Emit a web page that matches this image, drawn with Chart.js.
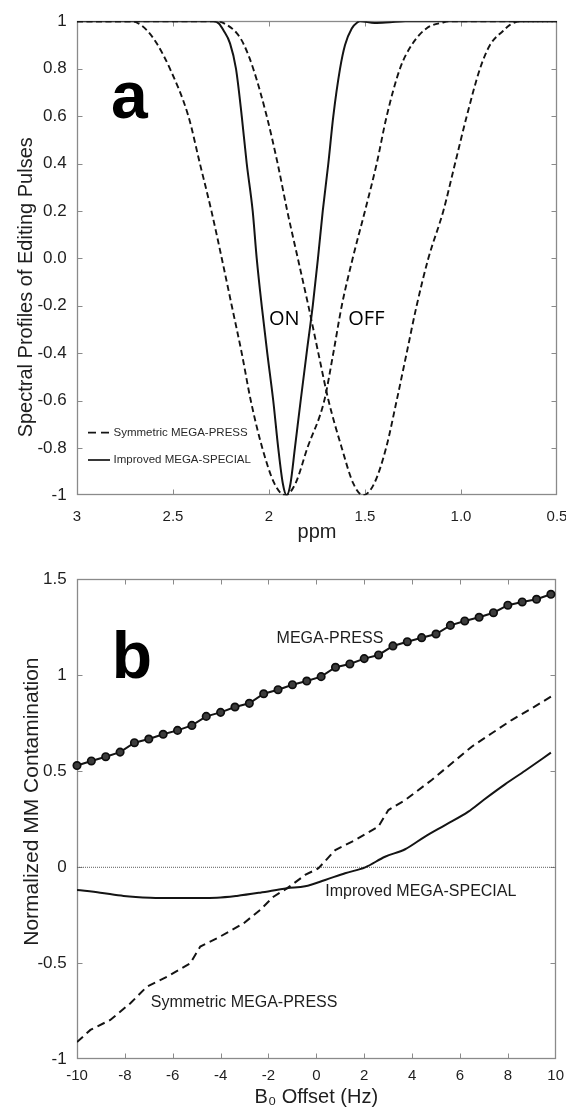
<!DOCTYPE html>
<html lang="en">
<head>
<meta charset="utf-8">
<title>Editing pulse profiles and MM contamination</title>
<script src="https://cdn.jsdelivr.net/npm/chart.js@4.4.1/dist/chart.umd.min.js"></script>
<style>
  html, body { margin: 0; padding: 0; background: #fff; }
  .panel { position: absolute; left: 0; width: 566px; }
  #panelA { top: 0; height: 545px; }
  #panelB { top: 545px; height: 564px; }
</style>
</head>
<body>
<div class="panel" id="panelA"><canvas id="profileChart"></canvas></div>
<div class="panel" id="panelB"><canvas id="mmChart"></canvas></div>
<script>
// ---------- Panel a: spectral profiles of the editing pulses ----------
// Symmetric MEGA-PRESS, ON pulse (dashed)
const symOnPpm = [3.0, 2.72, 2.69, 2.637, 2.585, 2.516, 2.42, 2.36, 2.30, 2.246, 2.194, 2.142, 2.095, 2.035, 1.972,
                  1.915, 1.862, 1.80, 1.712, 1.665, 1.621, 1.564, 1.50, 1.439, 1.387, 1.318, 1.257, 1.18, 1.094, 1.06, 0.5];
const symOnVal = [1, 1, 0.995, 0.963, 0.907, 0.8, 0.6, 0.4, 0.2, 0, -0.2, -0.4, -0.6, -0.8, -0.95,
                  -1, -0.95, -0.8, -0.6, -0.4, -0.2, 0, 0.2, 0.4, 0.6, 0.8, 0.9, 0.97, 0.995, 1, 1];
// Symmetric MEGA-PRESS, OFF pulse (dashed)
const symOffPpm = [3.0, 2.27, 2.22, 2.168, 2.134, 2.082, 2.012, 1.955, 1.905, 1.85, 1.795, 1.743, 1.69, 1.621, 1.561,
                   1.509, 1.452, 1.39, 1.335, 1.283, 1.231, 1.17, 1.092, 1.031, 0.97, 0.901, 0.849, 0.78, 0.745, 0.693, 0.5];
const symOffVal = [1, 1, 0.985, 0.95, 0.907, 0.8, 0.6, 0.4, 0.2, 0, -0.2, -0.4, -0.6, -0.8, -0.95,
                   -1, -0.95, -0.8, -0.6, -0.4, -0.2, 0, 0.2, 0.4, 0.6, 0.8, 0.9, 0.96, 0.985, 1, 1];
// Improved MEGA-SPECIAL, ON pulse (solid)
const mspOnPpm = [3.0, 2.29, 2.26, 2.238, 2.203, 2.172, 2.142, 2.116, 2.085, 2.064, 2.038, 2.009, 1.978, 1.952, 1.928,
                  1.908, 1.888, 1.865, 1.835, 1.804, 1.772, 1.745, 1.72, 1.691, 1.665, 1.63, 1.604, 1.569, 1.54, 1.526,
                  1.45, 1.37, 1.29, 0.5];
const mspOnVal = [1, 1, 0.99, 0.963, 0.907, 0.8, 0.6, 0.4, 0.2, 0, -0.2, -0.4, -0.6, -0.8, -0.95,
                  -1, -0.95, -0.8, -0.6, -0.4, -0.2, 0, 0.2, 0.4, 0.6, 0.8, 0.9, 0.97, 0.995, 1,
                  0.993, 0.996, 1, 1];

const ppmTicks = [3, 2.5, 2, 1.5, 1.0, 0.5];
const ppmTickLabels = ['3', '2.5', '2', '1.5', '1.0', '0.5'];
const profileTicks = [1, 0.8, 0.6, 0.4, 0.2, 0, -0.2, -0.4, -0.6, -0.8, -1];
const profileTickLabels = ['1', '0.8', '0.6', '0.4', '0.2', '0.0', '-0.2', '-0.4', '-0.6', '-0.8', '-1'];

// ---------- Panel b: normalized MM contamination vs B0 offset ----------
const pressHz = [-10, -9.4, -8.8, -8.2, -7.6, -7, -6.4, -5.8, -5.2, -4.6, -4, -3.4, -2.8, -2.2, -1.6, -1, -0.4,
                 0.2, 0.8, 1.4, 2, 2.6, 3.2, 3.8, 4.4, 5, 5.6, 6.2, 6.8, 7.4, 8, 8.6, 9.2, 9.8];
const pressVal = [0.53, 0.554, 0.576, 0.600, 0.649, 0.668, 0.693, 0.713, 0.739, 0.786, 0.807, 0.835, 0.854, 0.904,
                  0.925, 0.951, 0.970, 0.993, 1.042, 1.059, 1.087, 1.106, 1.153, 1.175, 1.196, 1.215, 1.260, 1.283,
                  1.302, 1.326, 1.365, 1.382, 1.396, 1.422];
const symHz = [-10, -9.44, -8.61, -7.77, -7.08, -6.24, -5.27, -4.85, -4.15, -3.04, -2.35, -1.79, -1.23, -0.47, 0.09,
               0.79, 1.62, 2.59, 3.01, 3.71, 4.82, 5.66, 6.49, 7.33, 8.16, 9.0, 9.8];
const symVal = [-0.91, -0.847, -0.795, -0.708, -0.622, -0.570, -0.500, -0.413, -0.370, -0.292, -0.222, -0.153, -0.110,
                -0.040, -0.005, 0.090, 0.142, 0.212, 0.298, 0.350, 0.455, 0.542, 0.628, 0.698, 0.767, 0.828, 0.889];
const impHz = [-10, -9.03, -8.05, -6.94, -5.82, -4.15, -3.32, -2.35, -1.23, -0.47, 0.37, 1.2, 2.04, 2.87, 3.71, 4.54,
               5.38, 6.35, 7.0, 7.88, 8.72, 9.8];
const impVal = [-0.118, -0.132, -0.149, -0.158, -0.160, -0.158, -0.149, -0.132, -0.109, -0.099, -0.066, -0.031, 0.0,
                0.055, 0.094, 0.160, 0.220, 0.290, 0.352, 0.432, 0.503, 0.597];
const zeroHz = [-10, 10];
const zeroVal = [0, 0];

const hzTicks = [-10, -8, -6, -4, -2, 0, 2, 4, 6, 8, 10];
const mmTicks = [1.5, 1, 0.5, 0, -0.5, -1];
const mmTickLabels = ['1.5', '1', '0.5', '0', '-0.5', '-1'];

// ---------- shared styling helpers ----------
const FAMILY = "'Liberation Sans', Arial, Helvetica, sans-serif";
const INK = '#141414';
const TEXT = '#1e1e1e';
const FRAME = '#8a8a8a';

const toPoints = (xs, ys) => xs.map((x, i) => ({ x: x, y: ys[i] }));
const setTicks = values => scale => { scale.ticks = values.map(v => ({ value: v })); };
const fixedBox = size => scale => {
  if (scale.isHorizontal()) { scale.height = size; } else { scale.width = size; }
  scale.paddingLeft = 0; scale.paddingRight = 0; scale.paddingTop = 0; scale.paddingBottom = 0;
};

// Box frame with short inward tick marks on all four sides
const boxFrame = {
  id: 'boxFrame',
  beforeDatasetsDraw(chart) {
    const { ctx, chartArea: a, scales: { x, y } } = chart;
    const L = Math.round(a.left) + 0.5, R = Math.round(a.right) - 0.5;
    const T = Math.round(a.top) + 0.5, B = Math.round(a.bottom) - 0.5;
    const len = 5;
    ctx.save();
    ctx.strokeStyle = FRAME;
    ctx.lineWidth = 1.3;
    ctx.strokeRect(L, T, R - L, B - T);
    ctx.lineWidth = 1;
    ctx.beginPath();
    x.ticks.forEach(t => {
      const px = Math.round(x.getPixelForValue(t.value)) + 0.5;
      if (px - L < 2 || R - px < 2) return;
      ctx.moveTo(px, B); ctx.lineTo(px, B - len);
      ctx.moveTo(px, T); ctx.lineTo(px, T + len);
    });
    y.ticks.forEach(t => {
      const py = Math.round(y.getPixelForValue(t.value)) + 0.5;
      if (py - T < 2 || B - py < 2) return;
      ctx.moveTo(L, py); ctx.lineTo(L + len, py);
      ctx.moveTo(R, py); ctx.lineTo(R - len, py);
    });
    ctx.stroke();
    ctx.restore();
  }
};

function drawVerticalTitle(ctx, text, cx, cy, size) {
  ctx.save();
  ctx.translate(cx, cy);
  ctx.rotate(-Math.PI / 2);
  ctx.font = size + 'px ' + FAMILY;
  ctx.fillStyle = TEXT;
  ctx.textAlign = 'center';
  ctx.textBaseline = 'middle';
  ctx.fillText(text, 0, 0);
  ctx.restore();
}

// Panel a labels: panel letter, ON/OFF tags, inset legend, y title
const profileLabels = {
  id: 'profileLabels',
  afterDraw(chart) {
    const { ctx, chartArea: a, scales: { x, y } } = chart;
    ctx.save();
    ctx.fillStyle = '#000';
    ctx.font = 'bold 66px ' + FAMILY;
    ctx.textAlign = 'left';
    ctx.textBaseline = 'alphabetic';
    ctx.fillText('a', a.left + 34, a.top + 97);

    ctx.fillStyle = '#000';
    ctx.font = "20px 'Open Sans', 'Noto Sans', sans-serif";
    ctx.fillText('ON', x.getPixelForValue(2.0), y.getPixelForValue(-0.281));
    ctx.fillText('OFF', x.getPixelForValue(1.587), y.getPixelForValue(-0.281));

    const ly1 = a.top + 411.4, ly2 = a.top + 438.7;
    ctx.strokeStyle = INK;
    ctx.lineWidth = 1.7;
    ctx.setLineDash([8, 5]);
    ctx.beginPath(); ctx.moveTo(a.left + 11, ly1); ctx.lineTo(a.left + 32, ly1); ctx.stroke();
    ctx.setLineDash([]);
    ctx.beginPath(); ctx.moveTo(a.left + 11, ly2); ctx.lineTo(a.left + 33, ly2); ctx.stroke();
    ctx.fillStyle = '#2a2a2a';
    ctx.font = '11.5px ' + FAMILY;
    ctx.textBaseline = 'middle';
    ctx.fillText('Symmetric MEGA-PRESS', a.left + 36.5, ly1);
    ctx.fillText('Improved MEGA-SPECIAL', a.left + 36.5, ly2);
    ctx.restore();

    drawVerticalTitle(ctx, 'Spectral Profiles of Editing Pulses', 26, (a.top + a.bottom) / 2 + 29, 20);
  }
};

// Panel b labels: panel letter, series names, y title
const mmLabels = {
  id: 'mmLabels',
  afterDraw(chart) {
    const { ctx, chartArea: a, scales: { x, y } } = chart;
    ctx.save();
    ctx.fillStyle = '#000';
    ctx.font = 'bold 66px ' + FAMILY;
    ctx.textAlign = 'left';
    ctx.textBaseline = 'alphabetic';
    ctx.fillText('b', a.left + 34.7, a.top + 99);

    ctx.fillStyle = TEXT;
    ctx.font = '16px ' + FAMILY;
    ctx.textBaseline = 'middle';
    ctx.fillText('MEGA-PRESS', x.getPixelForValue(-1.66), y.getPixelForValue(1.193));
    ctx.fillText('Improved MEGA-SPECIAL', x.getPixelForValue(0.37), y.getPixelForValue(-0.129));
    ctx.fillText('Symmetric MEGA-PRESS', x.getPixelForValue(-6.92), y.getPixelForValue(-0.707));
    ctx.restore();

    drawVerticalTitle(ctx, 'Normalized MM Contamination', 32, (a.top + a.bottom) / 2 - 17.7, 21);
  }
};

Chart.defaults.font.family = FAMILY;

new Chart(document.getElementById('profileChart'), {
  type: 'line',
  data: {
    datasets: [
      { label: 'Improved MEGA-SPECIAL ON', data: toPoints(mspOnPpm, mspOnVal), borderColor: INK, borderWidth: 2,
        cubicInterpolationMode: 'monotone', pointRadius: 0, fill: false },
      { label: 'Symmetric MEGA-PRESS ON', data: toPoints(symOnPpm, symOnVal), borderColor: INK, borderWidth: 1.9,
        borderDash: [6, 3.5], cubicInterpolationMode: 'monotone', pointRadius: 0, fill: false },
      { label: 'Symmetric MEGA-PRESS OFF', data: toPoints(symOffPpm, symOffVal), borderColor: INK, borderWidth: 1.9,
        borderDash: [6, 3.5], cubicInterpolationMode: 'monotone', pointRadius: 0, fill: false }
    ]
  },
  options: {
    responsive: true,
    maintainAspectRatio: false,
    animation: false,
    layout: { padding: { top: 21.3, right: 9, bottom: 0, left: 0 } },
    plugins: { legend: { display: false }, tooltip: { enabled: false } },
    scales: {
      x: {
        type: 'linear', min: 0.5, max: 3, reverse: true,
        afterBuildTicks: setTicks(ppmTicks), afterFit: fixedBox(49.7),
        grid: { display: false, drawTicks: false }, border: { display: false },
        ticks: { autoSkip: false, maxRotation: 0, padding: 12.4, color: TEXT, font: { size: 15 },
                 callback: v => ppmTickLabels[ppmTicks.indexOf(v)] },
        title: { display: true, text: 'ppm', color: TEXT, font: { size: 20 }, padding: { top: 0, bottom: 1 } }
      },
      y: {
        type: 'linear', min: -1, max: 1,
        afterBuildTicks: setTicks(profileTicks), afterFit: fixedBox(77),
        grid: { display: false, drawTicks: false }, border: { display: false },
        ticks: { autoSkip: false, padding: 10.3, color: TEXT, font: { size: 17 },
                 callback: v => profileTickLabels[profileTicks.indexOf(v)] }
      }
    }
  },
  plugins: [boxFrame, profileLabels]
});

new Chart(document.getElementById('mmChart'), {
  type: 'line',
  data: {
    datasets: [
      { label: 'MEGA-PRESS', data: toPoints(pressHz, pressVal), borderColor: INK, borderWidth: 2, tension: 0,
        pointRadius: 3.7, pointBackgroundColor: '#3c3c3c', pointBorderColor: '#0d0d0d', pointBorderWidth: 1.7,
        clip: false, fill: false },
      { label: 'Improved MEGA-SPECIAL', data: toPoints(impHz, impVal), borderColor: INK, borderWidth: 2,
        cubicInterpolationMode: 'monotone', pointRadius: 0, fill: false },
      { label: 'Symmetric MEGA-PRESS', data: toPoints(symHz, symVal), borderColor: INK, borderWidth: 2,
        borderDash: [8, 5], tension: 0, pointRadius: 0, fill: false },
      { label: 'zero', data: toPoints(zeroHz, zeroVal), borderColor: '#5e5e5e', borderWidth: 1,
        borderDash: [1, 1], pointRadius: 0, fill: false }
    ]
  },
  options: {
    responsive: true,
    maintainAspectRatio: false,
    animation: false,
    layout: { padding: { top: 34.3, right: 10.3, bottom: 0, left: 0 } },
    plugins: { legend: { display: false }, tooltip: { enabled: false } },
    scales: {
      x: {
        type: 'linear', min: -10, max: 10,
        afterBuildTicks: setTicks(hzTicks), afterFit: fixedBox(49.7),
        grid: { display: false, drawTicks: false }, border: { display: false },
        ticks: { autoSkip: false, maxRotation: 0, padding: 7.3, color: TEXT, font: { size: 15 } },
        title: { display: true, text: 'B\u2080 Offset (Hz)', color: TEXT, font: { size: 20 }, padding: { top: 0, bottom: 0 } }
      },
      y: {
        type: 'linear', min: -1, max: 1.5,
        afterBuildTicks: setTicks(mmTicks), afterFit: fixedBox(77),
        grid: { display: false, drawTicks: false }, border: { display: false },
        ticks: { autoSkip: false, padding: 10.3, color: TEXT, font: { size: 17 },
                 callback: v => mmTickLabels[mmTicks.indexOf(v)] }
      }
    }
  },
  plugins: [boxFrame, mmLabels]
});
</script>
</body>
</html>
